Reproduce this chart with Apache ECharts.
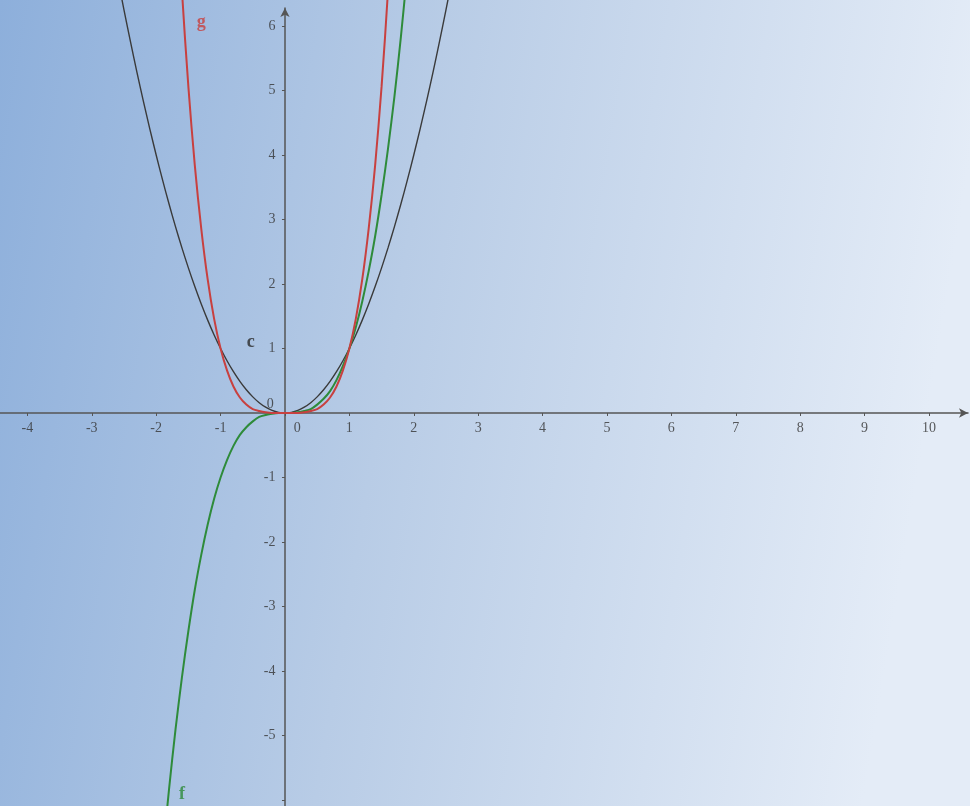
<!DOCTYPE html>
<html><head><meta charset="utf-8">
<script src="https://cdn.jsdelivr.net/npm/echarts@6/dist/echarts.min.js"></script>
<style>html,body{margin:0;padding:0;overflow:hidden;}#c{width:970px;height:806px;}</style>
</head><body><div id="c"></div>
<script>
// Tick values and labels
const xTicks = [-4,-3,-2,-1,0,1,2,3,4,5,6,7,8,9,10];
const xTickLabels = [-4,-3,-2,-1,1,2,3,4,5,6,7,8,9,10];
const yTicks = [-6,-5,-4,-3,-2,-1,0,1,2,3,4,5,6];
const yTickLabels = [-5,-4,-3,-2,-1,1,2,3,4,5,6];

// Curve c (black)
const cX = [-2.6,-2.5,-2.4,-2.3,-2.2,-2.1,-2.0,-1.9,-1.8,-1.7,-1.6,-1.5,-1.4,-1.3,-1.2,-1.1,-1.0,-0.9,-0.8,-0.7,-0.6,-0.5,-0.4,-0.3,-0.2,-0.1,0,0.1,0.2,0.3,0.4,0.5,0.6,0.7,0.8,0.9,1.0,1.1,1.2,1.3,1.4,1.5,1.6,1.7,1.8,1.9,2.0,2.1,2.2,2.3,2.4,2.5,2.6];
const cY = [6.76,6.25,5.76,5.29,4.84,4.41,4.00,3.61,3.24,2.89,2.56,2.25,1.96,1.69,1.44,1.21,1.00,0.81,0.64,0.49,0.36,0.25,0.16,0.09,0.04,0.01,0,0.01,0.04,0.09,0.16,0.25,0.36,0.49,0.64,0.81,1.00,1.21,1.44,1.69,1.96,2.25,2.56,2.89,3.24,3.61,4.00,4.41,4.84,5.29,5.76,6.25,6.76];

// Curve g (red)
const gX = [-1.7,-1.6,-1.5,-1.4,-1.3,-1.2,-1.1,-1.0,-0.9,-0.8,-0.7,-0.6,-0.5,-0.4,-0.3,-0.2,-0.1,0,0.1,0.2,0.3,0.4,0.5,0.6,0.7,0.8,0.9,1.0,1.1,1.2,1.3,1.4,1.5,1.6,1.7];
const gY = [8.35,6.55,5.06,3.84,2.86,2.07,1.46,1.00,0.66,0.41,0.24,0.13,0.06,0.03,0.01,0.00,0.00,0,0.00,0.00,0.01,0.03,0.06,0.13,0.24,0.41,0.66,1.00,1.46,2.07,2.86,3.84,5.06,6.55,8.35];

// Curve f (green)
const fX = [-1.9,-1.8,-1.7,-1.6,-1.5,-1.4,-1.3,-1.2,-1.1,-1.0,-0.9,-0.8,-0.7,-0.6,-0.5,-0.4,-0.3,-0.2,-0.1,0,0.1,0.2,0.3,0.4,0.5,0.6,0.7,0.8,0.9,1.0,1.1,1.2,1.3,1.4,1.5,1.6,1.7,1.8,1.9];
const fY = [-6.86,-5.83,-4.91,-4.10,-3.38,-2.74,-2.20,-1.73,-1.33,-1.00,-0.73,-0.51,-0.34,-0.22,-0.13,-0.06,-0.03,-0.01,0.00,0,0.00,0.01,0.03,0.06,0.13,0.22,0.34,0.51,0.73,1.00,1.33,1.73,2.20,2.74,3.38,4.10,4.91,5.83,6.86];

// Curve names and origin labels, placed in data coordinates
const noteText = ['g','c','f','0','0'];
const noteX = [-1.30,-0.53,-1.60,-0.23,0.19];
const noteY = [6.06,1.10,-5.92,0.14,-0.24];
const noteKind = ['g','c','f','tick','tick'];

const zip = (xs, ys) => xs.map((x, i) => [x, ys[i]]);

const tickFont = {color:'#333', fontFamily:'Liberation Serif', fontSize:14};
const noteStyles = {
  g: {color:'#c8403f', fontFamily:'Liberation Serif', fontSize:18, fontWeight:'bold'},
  c: {color:'#2a2a2a', fontFamily:'Liberation Serif', fontSize:18, fontWeight:'bold'},
  f: {color:'#2e8b3a', fontFamily:'Liberation Serif', fontSize:18, fontWeight:'bold'},
  tick: tickFont
};

const axisCol = '#555';
const hidden = {symbolSize:1, itemStyle:{color:'rgba(0,0,0,0)'}, silent:true, clip:false};
const chart = echarts.init(document.getElementById('c'));
chart.setOption({
  animation: false,
  backgroundColor: {
    type:'linear', x:0, y:0, x2:1, y2:0.2,
    colorStops:[
      {offset:0, color:'#8dafdb'},
      {offset:0.45, color:'#b8cce6'},
      {offset:1, color:'#e4ecf7'}
    ]
  },
  grid: {left:0, right:2, top:8, bottom:0, containLabel:false, outerBoundsMode:'none'},
  xAxis: {
    type:'value', min:-4.425, max:10.606,
    axisLine:{onZero:true, lineStyle:{color:axisCol, width:1.5}, symbol:['none','arrow'], symbolSize:[7,9]},
    axisTick:{show:true, customValues:xTicks, length:3, lineStyle:{color:axisCol}},
    axisLabel:{show:false},
    splitLine:{show:false}
  },
  yAxis: {
    type:'value', min:-6.093, max:6.279,
    axisLine:{onZero:true, lineStyle:{color:axisCol, width:1.5}, symbol:['none','arrow'], symbolSize:[7,9]},
    axisTick:{show:true, customValues:yTicks, length:3, lineStyle:{color:axisCol}},
    axisLabel:{show:false},
    splitLine:{show:false}
  },
  series: [
    {name:'c', type:'line', data:zip(cX,cY), showSymbol:false, smooth:0.3, clip:false,
     lineStyle:{color:'#3a3a3a', width:1.4}},
    {name:'f', type:'line', data:zip(fX,fY), showSymbol:false, smooth:0.3, clip:false,
     lineStyle:{color:'#2e8b3a', width:2}},
    {name:'g', type:'line', data:zip(gX,gY), showSymbol:false, smooth:0.3, clip:false,
     lineStyle:{color:'#c8403f', width:2}},
    Object.assign({name:'xLabels', type:'scatter',
     data: xTickLabels.map(v => [v, 0]),
     label:Object.assign({show:true, position:'bottom', distance:8, formatter:p => String(p.value[0])}, tickFont)}, hidden),
    Object.assign({name:'yLabels', type:'scatter',
     data: yTickLabels.map(v => [0, v]),
     label:Object.assign({show:true, position:'left', distance:9, formatter:p => String(p.value[1])}, tickFont)}, hidden),
    Object.assign({name:'notes', type:'scatter',
     data: noteText.map((t, i) => ({
       value:[noteX[i], noteY[i]],
       label:Object.assign({show:true, position:'inside', formatter:t}, noteStyles[noteKind[i]])
     }))}, hidden)
  ]
});
</script>
</body></html>
